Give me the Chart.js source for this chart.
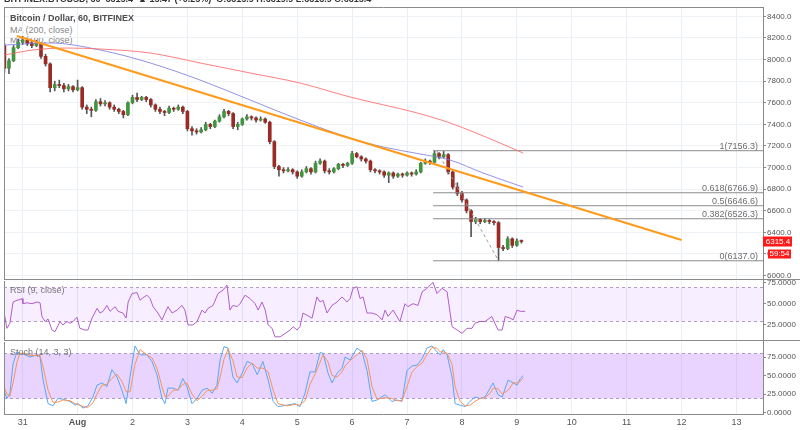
<!DOCTYPE html>
<html>
<head>
<meta charset="utf-8">
<script src="https://cdn.jsdelivr.net/npm/chart.js@4"></script>
<style>
  body { margin: 0; background: #fff; width: 800px; height: 430px; overflow: hidden; position: relative; font-family: "Liberation Sans", Arial, sans-serif; }
  canvas { position: absolute; left: 0; top: 0; }
  .lbl { position: absolute; left: 10px; font-size: 9px; line-height: 10px; color: #888; white-space: nowrap; }
</style>
</head>
<body>
<div class="lbl" style="top:25px">MA (200, close)</div>
<div class="lbl" style="top:35px">MA (100, close)</div>
<canvas id="main" width="800" height="430"></canvas>
<canvas id="rsi" width="800" height="430"></canvas>
<canvas id="stoch" width="800" height="430"></canvas>
<div class="lbl" style="top:-6px;left:4px;color:#333;font-weight:bold">BITFINEX:BTCUSD, 60&nbsp; 6315.4 &nbsp;▲ 15.47 (+0.25%)&nbsp; O:6315.9 H:6319.9 L:6313.9 C:6315.4</div>
<div class="lbl" style="top:12.5px;color:#4d4d4d;font-weight:bold">Bitcoin / Dollar, 60, BITFINEX</div>
<div class="lbl" style="top:285px;color:#777">RSI (9, close)</div>
<div class="lbl" style="top:346.5px;color:#777">Stoch (14, 3, 3)</div>
<script>
// 2-hour candles, hours counted from Jul 31 00:00
const candleStartHour = -8;
const candleStepHours = 2;
const firstOpen = 8130;
const closes = [7920,7990,8110,8160,8180,8150,8130,8150,8030,7960,
  7740,7770,7760,7730,7750,7720,7740,7560,7540,7530,
  7610,7590,7600,7560,7540,7520,7490,7600,7650,7630,
  7650,7630,7580,7540,7520,7510,7550,7540,7560,7520,
  7360,7340,7330,7350,7400,7380,7430,7470,7520,7500,
  7380,7400,7450,7470,7460,7440,7450,7420,7240,7010,
  6980,6970,6980,6960,6920,6960,6990,6960,7040,7060,
  6970,6960,6990,7030,7020,7040,7130,7100,7080,7060,
  6980,6970,6960,6930,6950,6920,6940,6930,6950,6940,
  6960,7040,7060,7050,7130,7100,7120,6960,6820,6760,
  6700,6600,6500,6520,6500,6510,6500,6490,6260,6250,
  6340,6280,6320,6315.4];
const highs = [8150,8010,8130,8190,8215,8200,8170,8180,8160,8050,
  7970,7800,7810,7780,7770,7760,7810,7750,7580,7560,
  7630,7640,7620,7610,7580,7550,7530,7610,7670,7690,
  7660,7660,7640,7590,7560,7530,7570,7560,7580,7570,
  7530,7380,7360,7370,7420,7410,7440,7490,7540,7530,
  7510,7420,7460,7490,7480,7470,7470,7460,7430,7250,
  7020,7000,7000,6990,6970,6980,7010,7000,7060,7080,
  7070,6990,7000,7040,7040,7050,7150,7140,7110,7090,
  7070,6990,6980,6970,6960,6960,6950,6950,6960,6960,
  6980,7050,7080,7070,7156,7140,7150,7130,6970,6860,
  6780,6710,6610,6540,6530,6530,6520,6510,6500,6280,
  6360,6350,6340,6330];
const lows = [7880,7870,7980,8100,8140,8130,8110,8120,8010,7940,
  7700,7710,7740,7700,7710,7700,7710,7540,7500,7470,
  7520,7570,7570,7540,7520,7500,7460,7480,7590,7610,
  7620,7610,7560,7520,7500,7480,7500,7520,7530,7500,
  7340,7300,7310,7320,7340,7360,7370,7420,7460,7480,
  7360,7350,7390,7440,7440,7420,7430,7410,7220,6990,
  6920,6950,6960,6940,6900,6910,6950,6940,6950,7030,
  6950,6940,6950,6980,7000,7010,7030,7090,7060,7040,
  6960,6950,6940,6910,6860,6900,6910,6910,6920,6920,
  6930,6950,7030,7030,7040,7080,7090,6940,6800,6740,
  6680,6580,6360,6480,6480,6490,6480,6470,6137,6230,
  6240,6260,6270,6300];

const ma200Hours = [-7.7,4.5,19.4,33.8,55.7,77.5,99.4,121.2,143,172.4,186.8,208.6,218.7];
const ma200Values = [8043,8089,8107,8098,8061,7969,7876,7783,7654,7506,7413,7228,7135];
const ma100Hours = [-7.7,11.9,33.8,55.7,77.5,99.4,121.2,143,157.5,173.7,186.8,201.2,218.7];
const ma100Values = [8135,8154,8089,7969,7811,7626,7441,7274,7191,7126,7070,6950,6820];

const trendHours = [-2.5, 288];
const trendPrices = [8218, 6330];

const fibRatios = ['1', '0.618', '0.5', '0.382', '0'];
const fibLevels = [7156.3, 6766.9, 6646.6, 6526.3, 6137.0];
const fibStartHour = 179.4;
const swingHours = [181, 208];
const swingPrices = [7156.3, 6137.0];

const lastPrice = 6315.4;
const countdown = '59:54';

const dayLabels = ['31','Aug','2','3','4','5','6','7','8','9','10','11','12','13'];

const rsiHours = [-8.2,-6.9,-5.6,-4.2,-2.5,-1.2,-0.3,0.1,1.9,4.1,
  6.3,7.6,8.4,9.8,11.1,12.8,14.1,16.3,17.6,19.4,
  20.7,22,23.7,25,27.2,28.5,30.3,32.5,33.8,35.1,
  36.8,38.2,40.4,41.7,43.8,45.2,46.1,47.8,50,51.3,
  52.6,54.3,55.7,57,59.1,60.9,62.2,63.5,65.3,67.5,
  69.6,70.9,72.3,74.4,76.2,78.4,79.7,81,83.2,85.4,
  87.6,89.3,90.6,91.9,93.7,95,97.2,99.4,101.6,102.9,
  104.6,106,107.3,109,110.3,112.5,114.7,116.9,118.2,119.9,
  121.2,122.5,126.5,128.6,130,131.3,133,135.2,137.4,139.6,
  141.8,143.1,144.4,146.1,147.5,148.8,150.5,152.7,154.9,157.1,
  158.4,159.7,161.9,164.9,167.1,168.4,170.6,172.8,174.6,176.7,
  178.9,179.4,181.1,183.3,185.5,187.7,189.9,192.1,194.2,196.4,
  197.7,199.9,202.1,205.1,206.4,207.8,209.6,210.9,213.1,214.4,
  216.1,217.5,219.6];
const rsiValues = [40.6,21,27,52,54,55,56,50,51,50,
  52,51,35,29,32,19,17,29,25,29,
  27,29,34,21,19,19,33,44.5,39,41,
  48,41,46.5,41,39,33,52,62,63,54,
  57,60,56,46.5,39,31,39,46.5,39,42.5,
  48,42.5,25,25,29,42.5,39,44.5,48,62,
  66,72,42.5,48,46.5,50,60,56,50,42.5,
  52,42.5,25,21,11,11,15,19,23,19,
  23,39,33,58,52,54,39,48,52,58,
  52,56,68,70,56,58,39,39,37,31,
  42.5,35,42.5,29,50,46.5,50,48,64,68,
  74,75,62,68,64,23,19,15,21,21,
  27,29,29,35,27,19,19,35,33,31,
  42.5,41,41];
const rsiBand = [70, 30];

const stochHours = [-8.2,-6.9,-5.6,-4.2,-2.5,-1.2,1,3.2,6.3,7.6,
  8.9,11.1,13.2,15.4,17.6,20.7,22.9,24.2,26.4,28.5,
  30.7,32.5,34.7,36.8,39,41.2,43.4,45.2,46.9,49.1,
  51.3,54.3,56.5,58.7,60.9,62.2,63.5,65.7,67.9,70,
  71.8,74,76.2,78.4,80.6,82.8,84.9,86.3,88,89.8,
  91.9,93.7,95.9,98.1,100.3,102.5,105,107.3,109.5,111.6,
  115.6,119,121.2,123.4,125.6,127.8,130,131.3,133.5,135.2,
  137.4,139.6,140.9,143.1,146.1,148.3,150.5,152.7,154.9,158.4,
  161.4,163.6,165.8,168,170.2,172.4,174.6,176.7,178.9,181.1,
  182.5,183.8,185.5,187.7,189,191.2,193.4,195.5,197.7,199.9,
  202.1,204.3,205.6,207.8,209.6,212.2,214.4,216.1,217.5,218.8];
const stochK = [30,19,26,66,82,80,78,75,78,75,
  44,12,9,19,18,15,10,12,6,9,
  21,37,40,35,58,48,30,12,48,90,
  78,78,69,51,19,12,33,33,30,46,
  35,12,19,30,33,26,37,71,89,87,
  48,40,53,69,66,51,69,44,15,8,
  10,12,8,26,55,55,81,80,53,40,
  53,60,75,71,87,82,57,15,17,24,
  15,17,15,57,63,64,73,87,90,82,
  78,85,78,48,12,10,8,15,21,19,
  21,33,40,24,21,44,40,37,46,50];
const stochD = [35,25,22,40,68,80,80,77,77,77,
  62,30,14,14,17,16,12,11,8,7,
  13,25,37,38,46,52,42,28,28,65,
  85,78,74,60,35,22,22,30,31,38,
  40,25,16,22,30,30,32,48,72,86,
  70,48,47,60,67,60,60,55,30,12,
  9,11,10,16,38,52,68,78,68,50,
  48,55,63,70,78,84,72,35,18,20,
  19,16,16,35,55,62,67,78,88,87,
  82,82,80,65,35,15,9,10,15,19,
  20,26,33,32,25,30,40,40,42,47];
const stochBand = [80, 20];

const FONT = '"Liberation Sans", Arial, sans-serif';
const opens = closes.map((c, i) => i === 0 ? firstOpen : closes[i - 1]);
const candleHours = closes.map((c, i) => candleStartHour + i * candleStepHours);
const pts = (xs, ys) => xs.map((x, i) => ({ x: x, y: ys[i] }));

function xAxis(showLabels) {
  return {
    type: 'linear', min: -8.17, max: 323.6, offset: false,
    ticks: {
      stepSize: 24, includeBounds: false, display: showLabels, autoSkip: false, maxRotation: 0,
      padding: 3, color: '#555',
      font: c => ({ family: FONT, size: 9, weight: c.tick && c.tick.value === 24 ? 'bold' : 'normal' }),
      callback: v => dayLabels[Math.round(v / 24)]
    },
    grid: { color: '#eaeef5', drawTicks: false, offset: false },
    border: { display: false },
    afterFit: s => { s.height = showLabels ? 16 : 0; s.paddingLeft = 0; s.paddingRight = 0; }
  };
}

function yAxis(min, max, step, digits, gridOn) {
  return {
    position: 'right', min: min, max: max,
    ticks: { stepSize: step, includeBounds: false, padding: 1, color: '#555',
      font: { family: FONT, size: 8 }, callback: v => v.toFixed(digits) },
    grid: { color: '#eef1f6', drawOnChartArea: gridOn, tickLength: 3, tickColor: '#888' },
    border: { color: '#888' },
    afterFit: s => { s.width = 37; s.paddingTop = 0; s.paddingBottom = 0; }
  };
}

const framePlugin = {
  id: 'frame',
  afterDraw(chart, args, opts) {
    const { ctx, chartArea: a } = chart;
    ctx.save();
    ctx.strokeStyle = '#8a8a8a';
    ctx.lineWidth = 1;
    ctx.beginPath();
    ctx.moveTo(a.left + 0.5, a.top);
    ctx.lineTo(a.left + 0.5, a.bottom);
    if (opts.top) { ctx.moveTo(a.left, a.top + 0.5); ctx.lineTo(a.right, a.top + 0.5); }
    if (opts.separator) { ctx.moveTo(a.left, a.bottom - 0.5); ctx.lineTo(chart.width, a.bottom - 0.5); }
    if (opts.bottom) { ctx.moveTo(a.left, a.bottom + 0.5); ctx.lineTo(a.right, a.bottom + 0.5); }
    ctx.stroke();
    ctx.restore();
  }
};

const bandPlugin = {
  id: 'band',
  beforeDatasetsDraw(chart, args, opts) {
    if (!opts.levels) return;
    const { ctx, chartArea: a, scales: { y } } = chart;
    const y1 = Math.round(y.getPixelForValue(opts.levels[0])) + 0.5;
    const y2 = Math.round(y.getPixelForValue(opts.levels[1])) + 0.5;
    ctx.save();
    ctx.fillStyle = opts.fill;
    ctx.fillRect(a.left, y1, a.right - a.left, y2 - y1);
    ctx.strokeStyle = '#b29cc4';
    ctx.setLineDash([3, 3]);
    ctx.lineWidth = 1;
    [y1, y2].forEach(v => { ctx.beginPath(); ctx.moveTo(a.left, v); ctx.lineTo(a.right, v); ctx.stroke(); });
    ctx.restore();
  }
};

const tagPlugin = {
  id: 'tags',
  afterDraw(chart) {
    const { ctx, chartArea: a, scales: { y } } = chart;
    ctx.save();
    ctx.font = '9px ' + FONT;
    ctx.fillStyle = '#6e6e6e';
    ctx.textAlign = 'right';
    ctx.textBaseline = 'bottom';
    fibRatios.forEach((r, i) => {
      const py = y.getPixelForValue(fibLevels[i]);
      ctx.fillText(r + '(' + fibLevels[i].toFixed(1) + ')', a.right - 5, py);
    });
    const py = y.getPixelForValue(lastPrice);
    ctx.fillStyle = '#ff1a1a';
    ctx.fillRect(a.right, py - 5, 29, 10);
    ctx.fillRect(a.right + 5, py + 8, 23, 9);
    ctx.fillStyle = '#fff';
    ctx.font = '8px ' + FONT;
    ctx.textAlign = 'center';
    ctx.textBaseline = 'middle';
    ctx.fillText(lastPrice.toFixed(1), a.right + 15, py + 0.5);
    ctx.fillText(countdown, a.right + 16.5, py + 12.5);
    ctx.restore();
  }
};

const common = {
  responsive: false, animation: false, devicePixelRatio: 1,
  plugins: { legend: { display: false }, tooltip: { enabled: false } }
};

const lineDs = (data, color, width, extra) => Object.assign({
  type: 'line', data: data, borderColor: color, borderWidth: width,
  pointRadius: 0, fill: false, tension: 0, order: 1
}, extra || {});

const fibSets = fibLevels.map(lv => lineDs(
  [{ x: fibStartHour, y: lv }, { x: 323.6, y: lv }], '#8c8c8c', 1));

new Chart('main', {
  type: 'bar',
  data: {
    datasets: [
      { data: candleHours.map((h, i) => ({ x: h, y: [lows[i], highs[i]] })),
        backgroundColor: '#555', barThickness: 1, grouped: false, order: 6 },
      { data: candleHours.map((h, i) => ({ x: h, y: [opens[i], closes[i]] })),
        backgroundColor: closes.map((c, i) => c >= opens[i] ? '#3f963f' : '#992a24'),
        barThickness: 3, minBarLength: 1, grouped: false, order: 5 },
      lineDs(pts(ma200Hours, ma200Values), 'rgba(255,95,95,0.8)', 1, { cubicInterpolationMode: 'monotone' }),
      lineDs(pts(ma100Hours, ma100Values), 'rgba(120,120,225,0.8)', 1, { cubicInterpolationMode: 'monotone' }),
      ...fibSets,
      lineDs(pts(swingHours, swingPrices), '#9a9a9a', 1, { borderDash: [3, 3] }),
      lineDs(pts(trendHours, trendPrices), '#ff9a1a', 2, { order: 0 })
    ]
  },
  options: Object.assign({}, common, {
    layout: { padding: { left: 4, top: 7, right: 0, bottom: 150 } },
    scales: { x: xAxis(false), y: yAxis(5959, 8487, 200, 1, true) },
    plugins: Object.assign({}, common.plugins, { frame: { top: true, separator: true } })
  }),
  plugins: [framePlugin, tagPlugin]
});

new Chart('rsi', {
  type: 'line',
  data: {
    datasets: [lineDs(pts(rsiHours, rsiValues), '#b25ccd', 1)]
  },
  options: Object.assign({}, common, {
    layout: { padding: { left: 4, top: 281, right: 0, bottom: 89 } },
    scales: { x: xAxis(false), y: yAxis(6.1, 76.7, 25, 4, false) },
    plugins: Object.assign({}, common.plugins, {
      frame: { separator: true }, band: { levels: rsiBand, fill: 'rgba(190,120,255,0.13)' } })
  }),
  plugins: [framePlugin, bandPlugin]
});

new Chart('stoch', {
  type: 'line',
  data: {
    datasets: [
      lineDs(pts(stochHours, stochD), '#f7925a', 1),
      lineDs(pts(stochHours, stochK), '#58a8f2', 1)
    ]
  },
  options: Object.assign({}, common, {
    layout: { padding: { left: 4, top: 342, right: 0, bottom: 0 } },
    scales: { x: xAxis(true), y: yAxis(-2, 95.3, 25, 4, false) },
    plugins: Object.assign({}, common.plugins, {
      frame: { bottom: true }, band: { levels: stochBand, fill: 'rgba(175,95,255,0.27)' } })
  }),
  plugins: [framePlugin, bandPlugin]
});
</script>
</body>
</html>
